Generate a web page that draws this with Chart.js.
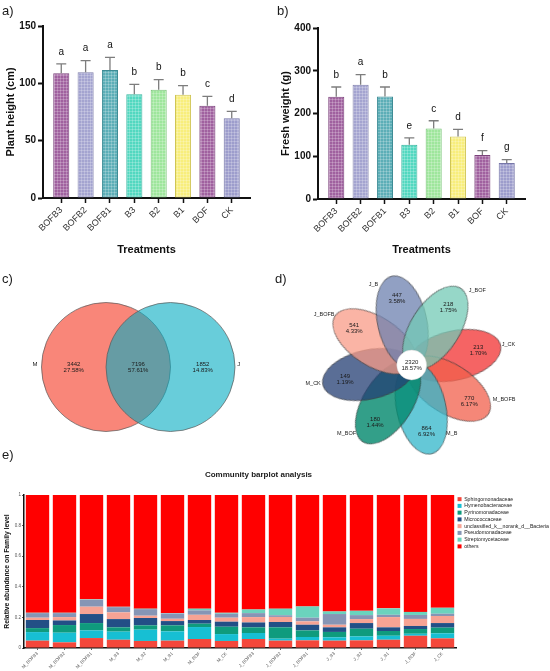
<!DOCTYPE html>
<html lang="en">
<head>
<meta charset="utf-8">
<title>Figura</title>
<script src="https://cdn.jsdelivr.net/npm/chart.js@4.4.1/dist/chart.umd.min.js"></script>
<style>
  body { margin: 0; background: #fff; }
  #figura { position: relative; width: 550px; height: 671px; overflow: hidden; font-family: "Liberation Sans", Arial, sans-serif; color: #1a1a1a; }
  #figura canvas { position: absolute; }
  .painel { position: absolute; font-size: 13px; line-height: 13px; }
  #tituloE { position: absolute; left: 158px; width: 201px; top: 471px; text-align: center; font-size: 8px; line-height: 8px; font-weight: bold; }
</style>
</head>
<body>
<div id="figura">
  <canvas id="graficoAltura" width="275" height="262" style="left:0;top:0"></canvas>
  <canvas id="graficoPeso" width="275" height="262" style="left:275px;top:0"></canvas>
  <canvas id="graficoVenn" width="275" height="193" style="left:0;top:262px"></canvas>
  <canvas id="graficoFlor" width="275" height="193" style="left:275px;top:262px"></canvas>
  <canvas id="graficoComunidade" width="550" height="216" style="left:0;top:455px"></canvas>
  <div class="painel" style="left:2px;top:4px">a)</div>
  <div class="painel" style="left:277px;top:4px">b)</div>
  <div class="painel" style="left:2px;top:272px">c)</div>
  <div class="painel" style="left:275px;top:272px">d)</div>
  <div class="painel" style="left:2px;top:448px">e)</div>
  <div id="tituloE">Community barplot analysis</div>
</div>
<script>
// ---------- Dados: painéis a) e b)
const tratamentos = ['BOFB3', 'BOFB2', 'BOFB1', 'B3', 'B2', 'B1', 'BOF', 'CK'];
const alturaPlanta = [108.7, 109.6, 111.6, 90.4, 94.5, 90.1, 80.5, 69.5];
const alturaErro = [8.2, 10.2, 11.1, 8.7, 8.7, 7.9, 8.2, 6.1];
const alturaLetras = ['a', 'a', 'a', 'b', 'b', 'b', 'c', 'd'];
const alturaTicks = [0, 50, 100, 150];
const pesoFresco = [239, 267, 240, 127, 165, 146, 103, 84];
const pesoErro = [23, 24, 22, 16, 18, 17, 10, 8];
const pesoLetras = ['b', 'a', 'b', 'e', 'c', 'd', 'f', 'g'];
const pesoTicks = [0, 100, 200, 300, 400];

// ---------- Dados: painel c) Venn
const vennConjuntos = ['M', 'J'];
const vennContagens = [3442, 7196, 1852];
const vennPercentuais = ['27.58%', '57.61%', '14.83%'];

// ---------- Dados: painel d) flor
const petalas = ['J_CK', 'M_BOFB', 'M_B', 'M_BOF', 'M_CK', 'J_BOFB', 'J_B', 'J_BOF'];
const petalaContagens = [213, 770, 864, 180, 149, 541, 447, 218];
const petalaPercentuais = ['1.70%', '6.17%', '6.92%', '1.44%', '1.19%', '4.33%', '3.58%', '1.75%'];
const nucleoContagem = 2320;
const nucleoPercentual = '18.57%';

// ---------- Dados: painel e) comunidade
const amostras = ['M_BOFB3', 'M_BOFB2', 'M_BOFB1', 'M_B3', 'M_B2', 'M_B1', 'M_BOF', 'M_CK',
                  'J_BOFB3', 'J_BOFB2', 'J_BOFB1', 'J_B3', 'J_B2', 'J_B1', 'J_BOF', 'J_CK'];
const familias = ['Sphingomonadaceae', 'Hymenobacteraceae', 'Pyrinomonadaceae', 'Micrococcaceae',
                  'unclassified_k__norank_d__Bacteria', 'Pseudomonadaceae', 'Streptomycetaceae', 'others'];
const sphingomonadaceae = [0.048, 0.037, 0.065, 0.054, 0.046, 0.048, 0.059, 0.046, 0.059, 0.048, 0.050, 0.048, 0.050, 0.054, 0.080, 0.063];
const hymenobacteraceae = [0.056, 0.063, 0.050, 0.053, 0.074, 0.061, 0.078, 0.045, 0.039, 0.013, 0.022, 0.022, 0.026, 0.026, 0.013, 0.033];
const pyrinomonadaceae  = [0.026, 0.050, 0.048, 0.028, 0.028, 0.039, 0.022, 0.048, 0.037, 0.074, 0.043, 0.035, 0.050, 0.031, 0.031, 0.037];
const micrococcaceae    = [0.053, 0.030, 0.059, 0.054, 0.048, 0.028, 0.024, 0.033, 0.032, 0.035, 0.037, 0.030, 0.037, 0.024, 0.020, 0.030];
const unclassifiedBact  = [0.015, 0.022, 0.048, 0.044, 0.015, 0.015, 0.034, 0.026, 0.035, 0.033, 0.022, 0.017, 0.026, 0.067, 0.046, 0.046];
const pseudomonadaceae  = [0.030, 0.026, 0.045, 0.034, 0.043, 0.035, 0.029, 0.026, 0.026, 0.011, 0.024, 0.070, 0.026, 0.015, 0.026, 0.015];
const streptomycetaceae = [0.002, 0.002, 0.003, 0.002, 0.003, 0.002, 0.011, 0.006, 0.024, 0.043, 0.074, 0.017, 0.028, 0.042, 0.020, 0.039];
const outros            = [0.770, 0.770, 0.682, 0.731, 0.743, 0.772, 0.743, 0.770, 0.748, 0.743, 0.728, 0.761, 0.757, 0.741, 0.764, 0.737];
const abundanciaTicks = [0, 0.2, 0.4, 0.6, 0.8, 1];

// ---------- Estilos
const fonte = '"Liberation Sans", Arial, sans-serif';
Chart.defaults.font.family = fonte;
Chart.defaults.color = '#1a1a1a';

const coresBarras  = ['#a0619f', '#a4a4d0', '#5caeb7', '#52d8c0', '#9ee69c', '#f8ee7c', '#a0619f', '#9d9dcc'];
const bordasBarras = ['#7b427b', '#7e7eab', '#3e8c95', '#34b39d', '#76c275', '#cfc556', '#7b427b', '#7777a8'];
const coresPetalas = ['rgba(242,48,48,0.75)', 'rgba(242,95,75,0.75)', 'rgba(48,182,202,0.75)', 'rgba(0,135,108,0.8)',
                      'rgba(35,62,115,0.75)', 'rgba(248,155,135,0.75)', 'rgba(108,128,175,0.75)', 'rgba(115,202,182,0.75)'];
const coresFamilias = ['#f4473b', '#17bfd3', '#0f9b7d', '#234f86', '#f7a394', '#8695b5', '#6bd3bd', '#ff0000'];

// Textura quadriculada das barras (estilo Prism)
function textura(cor) {
  const c = document.createElement('canvas');
  c.width = 3; c.height = 3;
  const g = c.getContext('2d');
  g.fillStyle = cor; g.fillRect(0, 0, 3, 3);
  g.fillStyle = 'rgba(255,255,255,0.22)';
  g.fillRect(0, 0, 3, 1); g.fillRect(0, 0, 1, 3);
  return g.createPattern(c, 'repeat');
}

// Barras de erro + letras de significância
const barrasErro = {
  id: 'barrasErro',
  afterDatasetsDraw(chart, args, opts) {
    const {ctx, scales: {y}} = chart;
    const meta = chart.getDatasetMeta(0);
    const dados = chart.data.datasets[0].data;
    ctx.save();
    ctx.strokeStyle = '#7d7d7d';
    ctx.lineWidth = 1.3;
    ctx.fillStyle = '#111';
    ctx.font = '10px ' + fonte;
    ctx.textAlign = 'center';
    ctx.textBaseline = 'middle';
    meta.data.forEach((barra, i) => {
      const topo = y.getPixelForValue(dados[i].y + opts.erros[i]);
      ctx.beginPath();
      ctx.moveTo(barra.x, barra.y); ctx.lineTo(barra.x, topo);
      ctx.moveTo(barra.x - 5, topo); ctx.lineTo(barra.x + 5, topo);
      ctx.stroke();
      ctx.fillText(opts.letras[i], barra.x, topo - 12);
    });
    ctx.restore();
  }
};

// Textos em coordenadas de dados (Venn e flor)
const rotulos = {
  id: 'rotulos',
  afterDatasetsDraw(chart, args, opts) {
    const {ctx, scales: {x, y}} = chart;
    ctx.save();
    ctx.fillStyle = '#1a1a1a';
    ctx.textAlign = 'center';
    ctx.textBaseline = 'middle';
    opts.itens.forEach(it => {
      ctx.font = it.tamanho + 'px ' + fonte;
      const linhas = String(it.texto).split('\n');
      const px = x.getPixelForValue(it.x), py = y.getPixelForValue(it.y);
      linhas.forEach((l, k) => ctx.fillText(l, px, py + (k - (linhas.length - 1) / 2) * it.tamanho));
    });
    ctx.restore();
  }
};

function graficoBarras(id, valores, erros, letras, ticks, titulo, topo, base) {
  return new Chart(document.getElementById(id), {
    type: 'bar',
    data: {
      datasets: [{
        data: tratamentos.map((t, i) => ({x: i, y: valores[i]})),
        backgroundColor: coresBarras.map(textura),
        borderColor: bordasBarras,
        borderWidth: 1,
        borderSkipped: false,
        barPercentage: 0.66,
        categoryPercentage: 1
      }]
    },
    options: {
      responsive: false, animation: false, events: [],
      layout: {autoPadding: false, padding: {top: topo, right: 25, left: 0, bottom: 0}},
      plugins: {legend: {display: false}, tooltip: {enabled: false}, barrasErro: {erros, letras}},
      scales: {
        x: {
          type: 'linear', min: -0.75, max: tratamentos.length - 0.25, offset: false,
          afterBuildTicks: s => { s.ticks = tratamentos.map((t, i) => ({value: i})); },
          afterFit: s => { s.height = base; s.paddingLeft = 0; s.paddingRight = 0; },
          ticks: {callback: v => tratamentos[v], minRotation: 45, maxRotation: 45, autoSkip: false,
                  font: {size: 9}, color: '#333', padding: 2},
          grid: {offset: false, drawOnChartArea: false, tickLength: 5, tickWidth: 1.5, tickColor: '#111'},
          border: {color: '#111', width: 2},
          title: {display: true, text: 'Treatments', font: {size: 11, weight: 'bold'}, color: '#111',
                  padding: {top: 0, bottom: 5}}
        },
        y: {
          min: 0, max: ticks[ticks.length - 1],
          afterBuildTicks: s => { s.ticks = ticks.map(v => ({value: v})); },
          afterFit: s => { s.width = 43; s.paddingTop = 0; s.paddingBottom = 0; },
          ticks: {font: {size: 10, weight: 'bold'}, color: '#111', padding: 2},
          grid: {drawOnChartArea: false, tickLength: 5, tickWidth: 2, tickColor: '#111'},
          border: {color: '#111', width: 2},
          title: {display: true, text: titulo, font: {size: 11, weight: 'bold'}, color: '#111',
                  padding: {top: 4, bottom: 0}}
        }
      }
    },
    plugins: [barrasErro]
  });
}

graficoBarras('graficoAltura', alturaPlanta, alturaErro, alturaLetras, alturaTicks, 'Plant height (cm)', 26, 64);
graficoBarras('graficoPeso', pesoFresco, pesoErro, pesoLetras, pesoTicks, 'Fresh weight (g)', 28, 63);

// Converte o tamanho do canvas em limites de escala (k = px por unidade)
function limites(largura, altura, cx, cy, k) {
  return {
    x: {display: false, min: -cx / k, max: (largura - cx) / k},
    y: {display: false, min: -(altura - cy) / k, max: cy / k}
  };
}
function pxPorUnidade(chart) {
  const x = chart.scales.x;
  return x.getPixelForValue(1) - x.getPixelForValue(0);
}

// ---------- Painel c) Venn
const vennCentros = [-0.5, 0.5];
new Chart(document.getElementById('graficoVenn'), {
  type: 'scatter',
  data: {
    datasets: [{
      data: vennCentros.map(c => ({x: c, y: 0})),
      backgroundColor: ['rgb(249,134,121)', 'rgba(4,172,193,0.6)'],
      borderColor: 'rgba(90,90,90,0.9)',
      borderWidth: 0.8,
      pointRadius: ctx => { const k = pxPorUnidade(ctx.chart); return isFinite(k) ? k : 1; }
    }]
  },
  options: {
    responsive: false, animation: false, events: [],
    layout: {autoPadding: false, padding: 0},
    plugins: {
      legend: {display: false}, tooltip: {enabled: false},
      rotulos: {itens: [
        {x: -1.6, y: 0.04, texto: vennConjuntos[0], tamanho: 6},
        {x: 1.56, y: 0.04, texto: vennConjuntos[1], tamanho: 6},
        {x: -1.0, y: 0, texto: vennContagens[0] + '\n' + vennPercentuais[0], tamanho: 6},
        {x: 0, y: 0, texto: vennContagens[1] + '\n' + vennPercentuais[1], tamanho: 6},
        {x: 1.0, y: 0, texto: vennContagens[2] + '\n' + vennPercentuais[2], tamanho: 6}
      ]}
    },
    scales: limites(275, 193, 138.25, 105, 64.5)
  },
  plugins: [rotulos]
});

// ---------- Painel d) flor
const anguloPetalas = [-12.5, 32.5, 77.5, 122.5, 167.5, 212.5, 257.5, 302.5];  // graus, sentido horário
const eixosPetala = [1.07, 0.56];
const posNomes = [[2.2, 0.47], [2.1, -0.78], [0.91, -1.55], [-1.48, -1.55], [-2.24, -0.43], [-1.99, 1.14], [-0.87, 1.82], [1.49, 1.7]];
const cachePetalas = {};
function imagemPetala(chart, i) {
  const k = pxPorUnidade(chart);
  if (!isFinite(k) || k <= 0) return 'circle';
  const chave = i + ':' + k.toFixed(2);
  if (!cachePetalas[chave]) {
    const a = eixosPetala[0] * k, b = eixosPetala[1] * k;
    const c = document.createElement('canvas');
    c.width = Math.ceil(2 * a + 4); c.height = Math.ceil(2 * b + 4);
    const g = c.getContext('2d');
    g.beginPath();
    g.ellipse(c.width / 2, c.height / 2, a, b, 0, 0, Math.PI * 2);
    g.fillStyle = coresPetalas[i]; g.fill();
    g.lineWidth = 0.8; g.strokeStyle = 'rgba(60,60,60,0.8)'; g.stroke();
    cachePetalas[chave] = c;
  }
  return cachePetalas[chave];
}
const rad = g => g * Math.PI / 180;
const itensFlor = [{x: 0, y: 0, texto: nucleoContagem + '\n' + nucleoPercentual, tamanho: 6}];
petalas.forEach((p, i) => {
  const t = rad(anguloPetalas[i]);
  itensFlor.push({x: 1.55 * Math.cos(t), y: -1.55 * Math.sin(t), texto: petalaContagens[i] + '\n' + petalaPercentuais[i], tamanho: 6});
  itensFlor.push({x: posNomes[i][0], y: posNomes[i][1], texto: p, tamanho: 5.5});
});

new Chart(document.getElementById('graficoFlor'), {
  type: 'scatter',
  data: {
    datasets: [
      { // miolo branco (dataset 0 é desenhado por cima)
        data: [{x: 0, y: 0}],
        backgroundColor: '#fff', borderColor: 'rgba(200,200,200,0.8)', borderWidth: 0.5,
        pointRadius: ctx => { const k = pxPorUnidade(ctx.chart); return isFinite(k) ? 0.34 * k : 1; }
      },
      {
        data: anguloPetalas.map(a => ({x: Math.cos(rad(a)), y: -Math.sin(rad(a))})),
        pointStyle: ctx => imagemPetala(ctx.chart, ctx.dataIndex),
        rotation: anguloPetalas,
        pointRadius: 5
      }
    ]
  },
  options: {
    responsive: false, animation: false, events: [],
    layout: {autoPadding: false, padding: 0},
    plugins: {legend: {display: false}, tooltip: {enabled: false}, rotulos: {itens: itensFlor}},
    scales: limites(275, 193, 136.7, 103, 44)
  },
  plugins: [rotulos]
});

// ---------- Painel e) barras empilhadas
const seriesFamilias = [sphingomonadaceae, hymenobacteraceae, pyrinomonadaceae, micrococcaceae,
                        unclassifiedBact, pseudomonadaceae, streptomycetaceae, outros];

// largura fixa da legenda para a área do gráfico terminar no mesmo ponto
const larguraLegenda = {
  id: 'larguraLegenda',
  afterInit(chart, args, opts) {
    const lg = chart.legend;
    if (!lg || lg._ajustada) return;
    const fitOriginal = lg.fit;
    lg.fit = function () { fitOriginal.call(this); this.width = opts.largura; };
    lg._ajustada = true;
  }
};

new Chart(document.getElementById('graficoComunidade'), {
  type: 'bar',
  data: {
    labels: amostras,
    datasets: familias.map((f, i) => ({
      label: f,
      data: seriesFamilias[i],
      backgroundColor: coresFamilias[i],
      borderColor: coresFamilias[i],
      borderWidth: 0,
      barPercentage: 0.866,
      categoryPercentage: 1
    }))
  },
  options: {
    responsive: false, animation: false, events: [],
    layout: {autoPadding: false, padding: {top: 40, left: 0, right: 0, bottom: 0}},
    plugins: {
      tooltip: {enabled: false},
      larguraLegenda: {largura: 94},
      legend: {
        position: 'right', align: 'start', fullSize: false,
        labels: {boxWidth: 4, boxHeight: 4, padding: 1.55, font: {size: 5.2}, color: '#222'}
      }
    },
    scales: {
      x: {
        stacked: true,
        afterFit: s => { s.height = 23; s.paddingLeft = 0; s.paddingRight = 0; },
        ticks: {minRotation: 45, maxRotation: 45, autoSkip: false, font: {size: 4.5}, color: '#555', padding: 1},
        grid: {offset: false, drawOnChartArea: false, tickLength: 2, tickWidth: 0.8, tickColor: '#333'},
        border: {color: '#111', width: 1.5}
      },
      y: {
        stacked: true, min: 0, max: 1,
        afterBuildTicks: s => { s.ticks = abundanciaTicks.map(v => ({value: v})); },
        afterFit: s => { s.width = 24; s.paddingTop = 0; s.paddingBottom = 0; },
        ticks: {callback: v => String(Math.round(v * 10) / 10), font: {size: 4.5}, color: '#555', padding: 1},
        grid: {drawOnChartArea: false, tickLength: 2, tickWidth: 0.8, tickColor: '#333'},
        border: {color: '#111', width: 1.5},
        title: {display: true, text: 'Relative abundance on Family level', font: {size: 6.8, weight: 'bold'},
                color: '#111', padding: {top: 3, bottom: 0}}
      }
    }
  },
  plugins: [larguraLegenda]
});
</script>
</body>
</html>
